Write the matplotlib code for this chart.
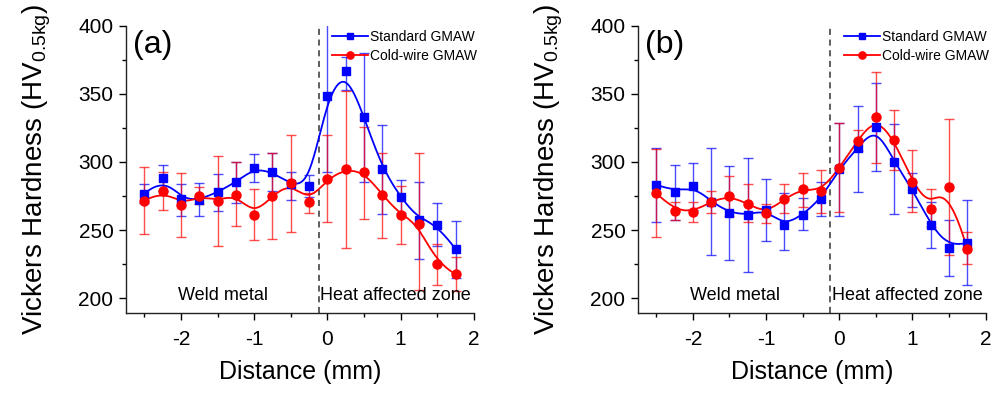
import numpy as np
import matplotlib
matplotlib.use("Agg")
import matplotlib.pyplot as plt
from matplotlib.ticker import MultipleLocator

plt.rcParams['font.family'] = ['Liberation Sans', 'DejaVu Sans']
plt.rcParams['mathtext.fontset'] = 'custom'
plt.rcParams['mathtext.rm'] = 'Liberation Sans'
plt.rcParams['axes.unicode_minus'] = False

# ---------------- data ----------------
distance = [-2.5, -2.25, -2.0, -1.75, -1.5, -1.25, -1.0, -0.75, -0.5, -0.25,
            0.0, 0.25, 0.5, 0.75, 1.0, 1.25, 1.5, 1.75]

# panel (a)
a_std = [276.6, 288.3, 272.7, 272.2, 277.9, 285.2, 295.4, 292.5, 283.7, 282.7,
         348.5, 367.0, 333.0, 295.2, 274.2, 257.5, 254.1, 236.0]
a_std_lo = [269.8, 279.0, 260.5, 260.5, 264.0, 269.8, 285.2, 279.0, 272.2, 274.6,
            293.0, 352.9, 285.6, 261.9, 262.5, 228.7, 238.0, 214.8]
a_std_hi = [283.7, 297.9, 284.0, 284.4, 291.3, 300.3, 305.7, 306.4, 293.0, 290.5,
            405.0, 377.3, 379.7, 327.2, 286.9, 285.2, 270.2, 257.0]
a_cw = [271.5, 279.0, 268.3, 275.1, 271.5, 276.1, 261.4, 275.4, 284.4, 271.0,
        287.6, 294.7, 292.5, 275.9, 261.2, 254.4, 225.0, 217.7]
a_cw_lo = [247.0, 264.9, 244.9, 269.5, 238.0, 253.2, 242.9, 243.6, 248.7, 262.5,
           255.9, 236.8, 258.3, 244.1, 239.7, 206.0, 209.9, 205.0]
a_cw_hi = [296.2, 292.5, 292.0, 281.3, 304.7, 299.9, 280.0, 306.9, 319.9, 277.1,
           319.9, 352.1, 326.0, 306.9, 282.5, 306.4, 240.0, 230.6]

# panel (b)
b_std = [283.4, 278.3, 282.7, 271.0, 262.9, 261.2, 264.9, 253.4, 261.4, 272.9,
         294.9, 310.1, 326.0, 300.3, 280.0, 253.9, 236.8, 240.9]
b_std_lo = [255.9, 257.5, 264.9, 231.9, 228.2, 219.1, 242.1, 235.6, 250.0, 260.5,
            260.0, 278.1, 293.5, 261.9, 267.3, 236.8, 216.0, 209.4]
b_std_hi = [310.6, 297.9, 299.6, 310.6, 297.4, 302.8, 287.6, 277.1, 273.5, 285.2,
            328.4, 341.4, 358.2, 327.9, 291.8, 271.0, 257.5, 272.2]
b_cw = [277.1, 264.4, 263.2, 271.0, 275.1, 269.3, 262.5, 272.9, 280.3, 278.6,
        295.4, 315.7, 332.8, 316.2, 285.6, 265.6, 282.0, 236.0]
b_cw_lo = [244.6, 257.5, 255.9, 262.5, 260.0, 255.6, 255.1, 262.5, 267.3, 262.9,
           263.2, 308.1, 299.1, 294.2, 263.2, 252.6, 231.9, 225.0]
b_cw_hi = [309.6, 271.0, 271.0, 278.8, 290.0, 283.7, 269.1, 283.7, 292.2, 294.2,
           328.4, 323.5, 366.3, 338.2, 308.9, 280.3, 331.4, 248.5]

boundary = -0.12
x_ticks = [-2, -1, 0, 1, 2]
y_ticks = [200, 250, 300, 350, 400]
series_names = ["Standard GMAW", "Cold-wire GMAW"]
panel_labels = ["(a)", "(b)"]
zone_labels = ["Weld metal", "Heat affected zone"]

BLUE = '#0000ff'
RED = '#ff0000'


def bspline(xs, ys, n=600, k=3):
    P = np.column_stack([xs, ys]).astype(float)
    m = len(P)
    knots = np.concatenate([np.zeros(k), np.arange(m - k + 1), np.full(k, m - k)]).astype(float)
    t = np.linspace(0, m - k, n)
    t[-1] -= 1e-9
    N = np.array([((knots[i] <= t) & (t < knots[i + 1])).astype(float)
                  for i in range(len(knots) - 1)])
    for d in range(1, k + 1):
        Nn = np.zeros((len(knots) - 1 - d, n))
        for i in range(len(knots) - 1 - d):
            a = np.zeros(n)
            den1 = knots[i + d] - knots[i]
            if den1 > 0:
                a += (t - knots[i]) / den1 * N[i]
            den2 = knots[i + d + 1] - knots[i + 1]
            if den2 > 0:
                a += (knots[i + d + 1] - t) / den2 * N[i + 1]
            Nn[i] = a
        N = Nn
    C = N.T @ P
    return C[:, 0], C[:, 1]


fig = plt.figure(figsize=(10.02, 3.93), dpi=100)
axes_rects = [[0.1257, 0.2036, 0.3473, 0.731], [0.6367, 0.2036, 0.3469, 0.731]]

panels = [(a_std, a_std_lo, a_std_hi, a_cw, a_cw_lo, a_cw_hi),
          (b_std, b_std_lo, b_std_hi, b_cw, b_cw_lo, b_cw_hi)]

x = np.array(distance)
for idx, (rect, data) in enumerate(zip(axes_rects, panels)):
    ax = fig.add_axes(rect)
    s, slo, shi, c, clo, chi = [np.array(v) for v in data]
    for yv, lo, hi, col, mk, ms, name in [
            (s, slo, shi, BLUE, 's', 5.5, series_names[0]),
            (c, clo, chi, RED, 'o', 6.5, series_names[1])]:
        ax.errorbar(x, yv, yerr=[yv - lo, hi - yv], fmt='none', ecolor=col,
                    alpha=0.7, elinewidth=1.0, capsize=3.5, capthick=1.0, zorder=2)
        bx, by = bspline(x, yv)
        ax.plot(bx, by, color=col, lw=1.3, zorder=3)
        ax.plot(x, yv, linestyle='none', marker=mk, ms=ms, color=col, zorder=4)
        ax.plot([], [], color=col, lw=1.3, marker=mk, ms=ms * 0.8, label=name)

    ax.axvline(boundary, color='#333333', lw=1.1, ls=(0, (4, 3)), zorder=1)
    ax.set_xlim(-2.75, 2.0)
    ax.set_ylim(189.2, 400)
    ax.set_xticks(x_ticks)
    ax.set_yticks(y_ticks)
    ax.xaxis.set_minor_locator(MultipleLocator(0.5))
    ax.yaxis.set_minor_locator(MultipleLocator(25))
    ax.tick_params(which='major', direction='out', length=5, width=1, labelsize=15, pad=7)
    ax.tick_params(which='minor', direction='out', length=3, width=1)
    ax.tick_params(axis='y', pad=4)
    for sp in ['top', 'right']:
        ax.spines[sp].set_visible(False)
    for sp in ['left', 'bottom']:
        ax.spines[sp].set_linewidth(1.0)
        ax.spines[sp].set_color('#222222')
    ax.set_xlabel('Distance (mm)', fontsize=18, labelpad=8)
    ax.set_ylabel(r'Vickers Hardness (HV$_\mathregular{0.5kg}$)', fontsize=20, labelpad=18)
    ax.text(0.02, 0.985, panel_labels[idx], transform=ax.transAxes, fontsize=23,
            ha='left', va='top')
    ax.text(-1.43, 202, zone_labels[0], fontsize=13, ha='center', va='center')
    ax.text(0.93, 202, zone_labels[1], fontsize=13, ha='center', va='center')
    ax.legend(loc='upper right', bbox_to_anchor=(1.025, 1.005), frameon=False,
              fontsize=10, handlelength=2.6, handletextpad=0.15, labelspacing=0.35,
              borderaxespad=0.0)

fig.savefig('out.png', dpi=100)
